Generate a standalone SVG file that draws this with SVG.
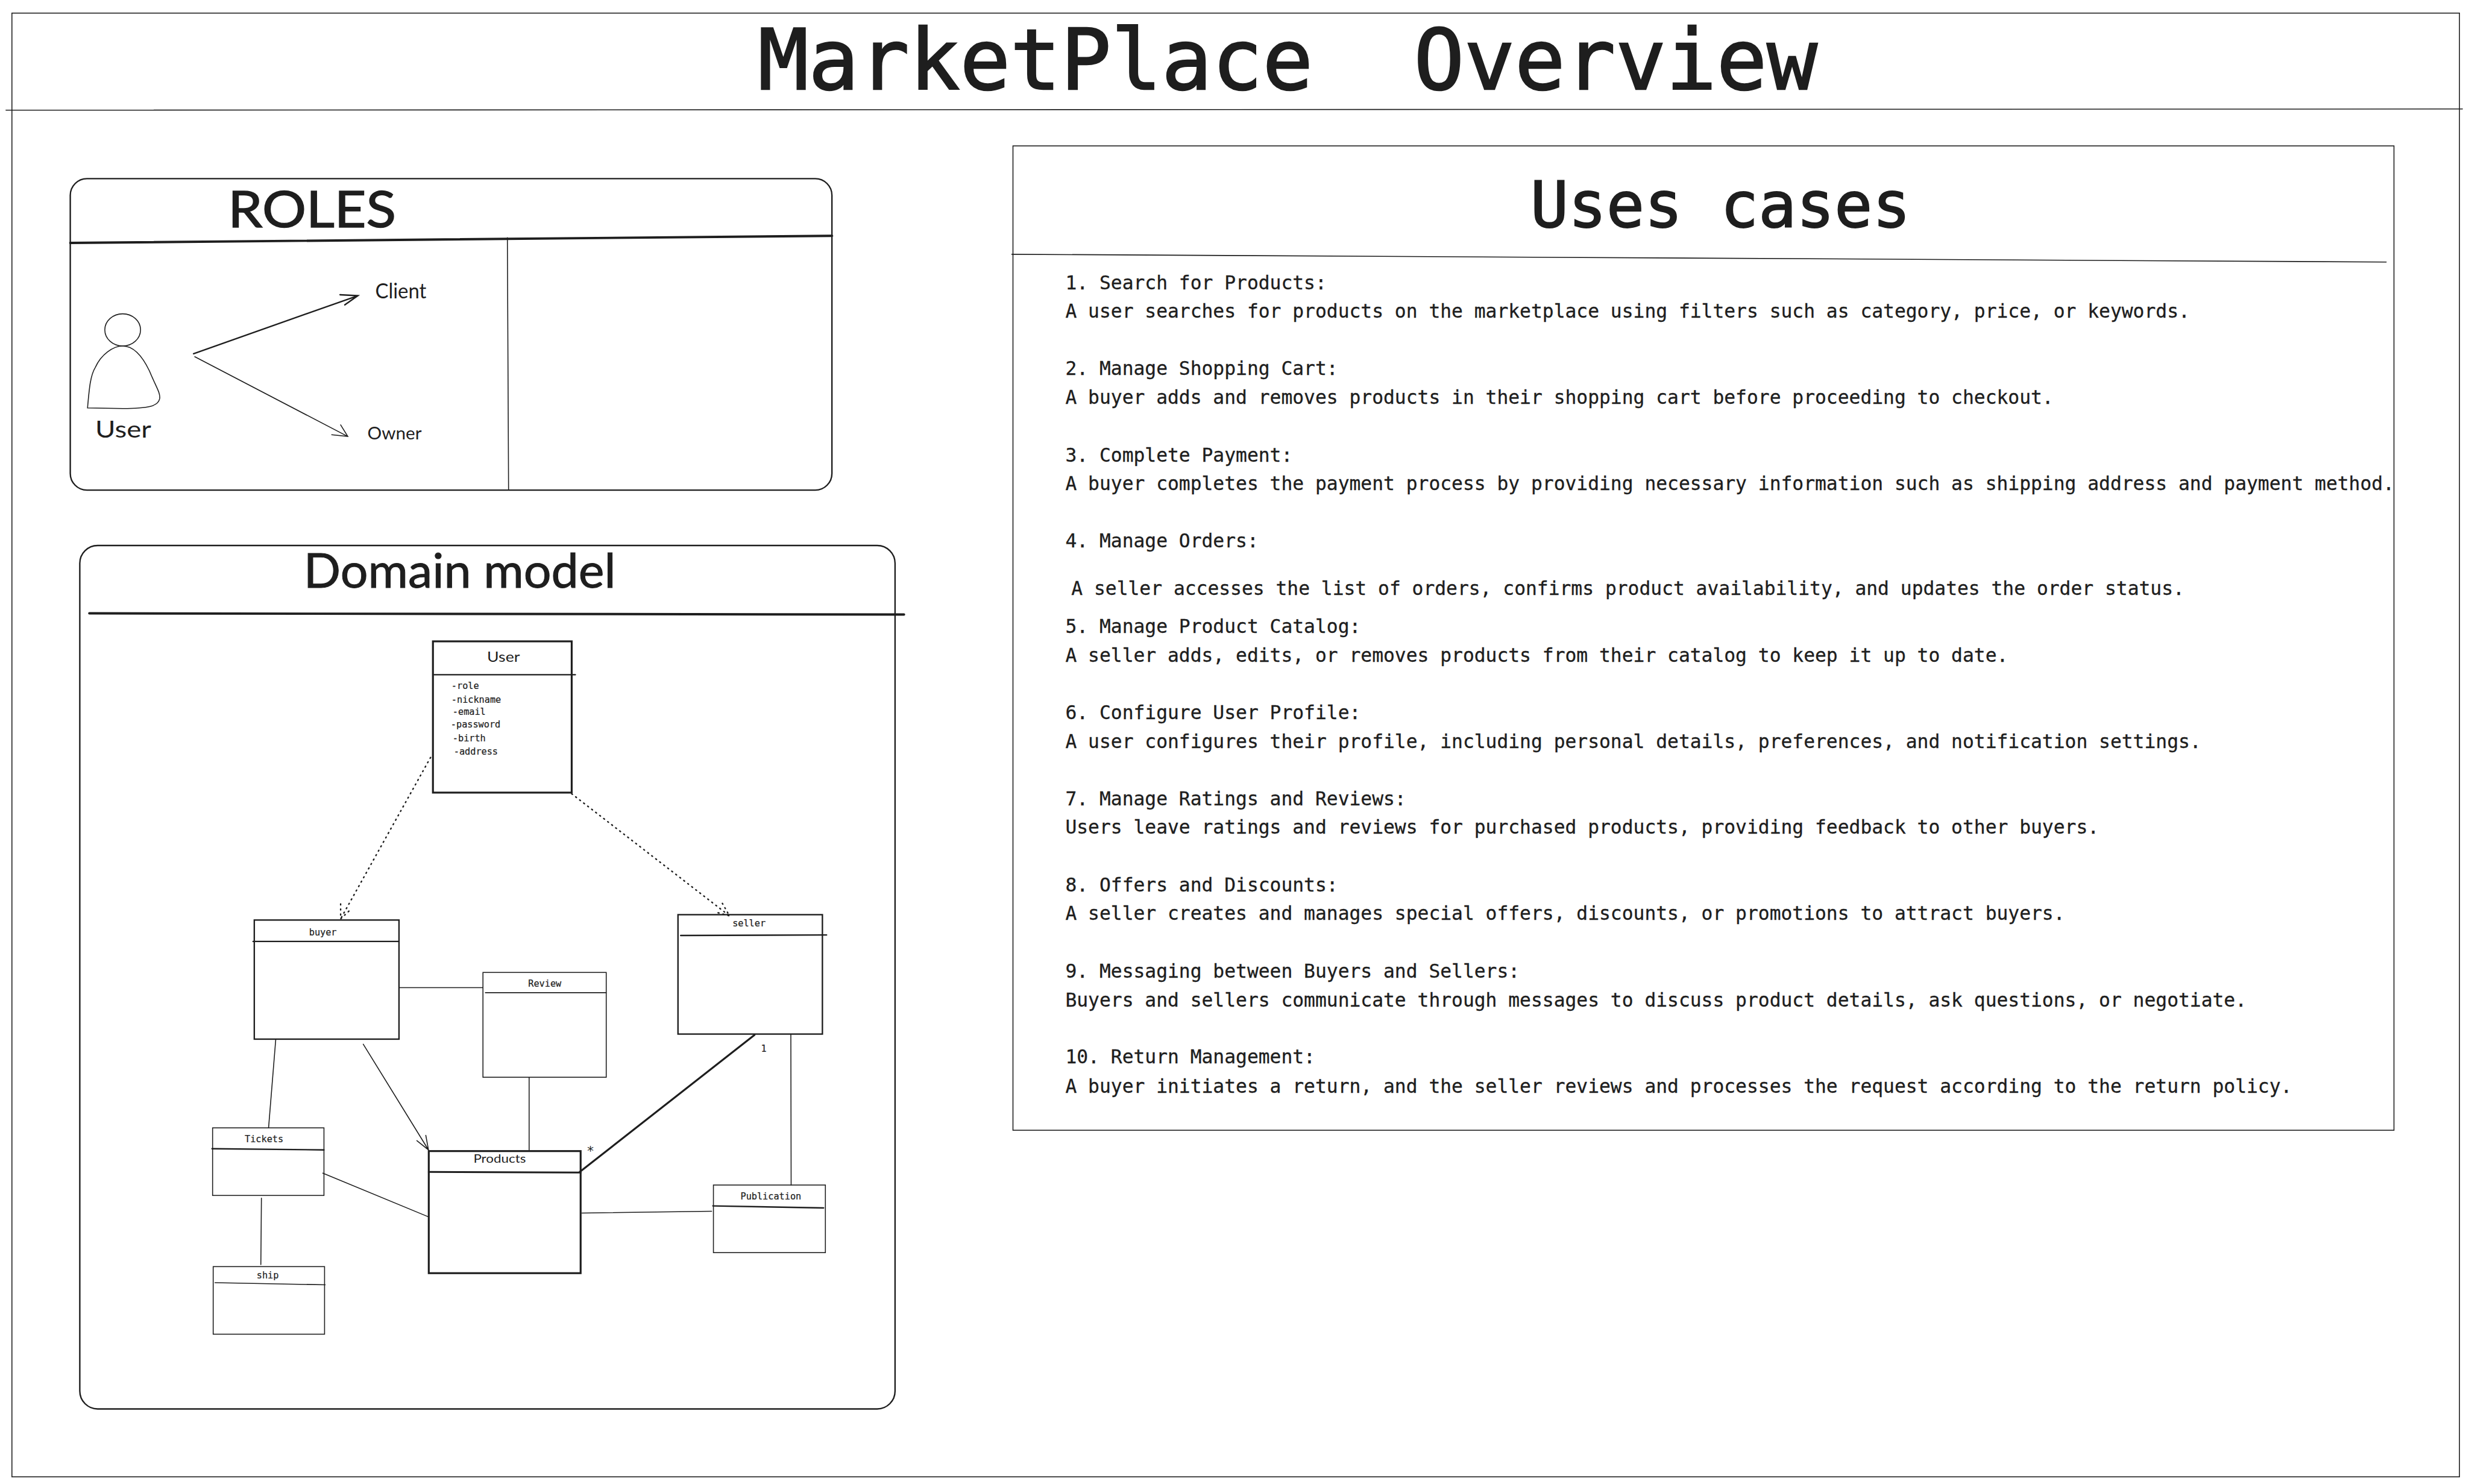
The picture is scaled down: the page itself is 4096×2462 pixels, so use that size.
<svg xmlns="http://www.w3.org/2000/svg" width="4096" height="2462" viewBox="0 0 4096 2462">
<style>
.b{fill:none;stroke:#1e1e1e;stroke-width:2.4;stroke-linecap:round}
.m{stroke-width:3.2}
.t{fill:none;stroke:#1e1e1e;stroke-width:1.6;stroke-linecap:round}
.h{stroke-width:4}
.d{fill:none;stroke:#1e1e1e;stroke-width:2.4;stroke-linecap:round;stroke-dasharray:1.5 7}
text{fill:#1e1e1e}
.c{font-family:"DejaVu Sans Mono","Liberation Mono",monospace;white-space:pre}
.s{font-size:31.7px;stroke:#1e1e1e;stroke-width:.35}
.a{font-size:15.4px;stroke:#1e1e1e;stroke-width:.25}
.w{font-family:"Lato","Noto Sans",sans-serif}
.n{font-size:15.4px;stroke:#1e1e1e;stroke-width:.25}
</style>
<rect width="4096" height="2462" fill="#ffffff"/>
<g transform="scale(0.98794)">
<g id="frame">
<rect class="t" x="20" y="22" width="4110" height="2458"/>
<path class="t" d="M10 185L4135 183"/>
<text class="c" x="1273" y="150" font-size="140.700" stroke="#1e1e1e" stroke-width="2.500" xml:space="preserve">MarketPlace  Overview</text>
</g>
<g id="roles">
<rect class="b" x="118" y="300" width="1279" height="523" rx="28"/>
<path class="b h" d="M118 408L1397 396"/>
<path class="t" d="M852 399L854 823"/>
<text class="w" x="383" y="382" font-size="85" stroke="#1e1e1e" stroke-width="1.500" textLength="282" lengthAdjust="spacingAndGlyphs">ROLES</text>
</g>
<g id="actor">
<ellipse class="t" cx="206" cy="554" rx="30" ry="27"/>
<path class="t" d="M147 685C150 650 152 630 160 617C170 595 190 581 206 581C225 581 240 600 251 623C262 650 270 660 268 670C265 682 250 686 206 686Z"/>
<text class="w" x="160" y="735" font-size="40" textLength="94" lengthAdjust="spacingAndGlyphs">User</text>
</g>
<g id="client"><text class="w" x="630" y="501" font-size="36" textLength="86" lengthAdjust="spacingAndGlyphs">Client</text></g>
<g id="owner"><text class="w" x="617" y="738" font-size="30" textLength="91" lengthAdjust="spacingAndGlyphs">Owner</text></g>
<g id="domain">
<rect class="b" x="134" y="916" width="1369" height="1450" rx="30"/>
<path class="b h" d="M150 1030L1518 1032"/>
<text class="w" x="510" y="987" font-size="80" stroke="#1e1e1e" stroke-width="1" textLength="524" lengthAdjust="spacingAndGlyphs">Domain model</text>
</g>
<g transform="translate(0,-1)">
<g id="user-class">
<rect class="b m" x="727" y="1078" width="233" height="254"/>
<path class="b" d="M729 1134L966 1134"/>
<text class="w" x="818" y="1112" font-size="23" textLength="55" lengthAdjust="spacingAndGlyphs">User</text>
<text class="c a" x="758" y="1158">-role</text>
<text class="c a" x="758" y="1181">-nickname</text>
<text class="c a" x="760" y="1201">-email</text>
<text class="c a" x="757" y="1223">-password</text>
<text class="c a" x="760" y="1246">-birth</text>
<text class="c a" x="762" y="1268">-address</text>
</g>
<g id="buyer">
<rect class="b" x="427" y="1546" width="243" height="200"/>
<path class="b" d="M425 1582L670 1582"/>
<text class="c a" x="519" y="1572">buyer</text>
</g>
<g id="seller">
<rect class="b" x="1138.500" y="1537" width="242.500" height="200.500"/>
<path class="b" d="M1143 1572L1388 1571"/>
<text class="c a" x="1230" y="1557">seller</text>
</g>
<g id="review">
<rect class="t" x="811" y="1634" width="207" height="176"/>
<path class="t" d="M815 1668L1018 1668"/>
<text class="c a" x="887" y="1658">Review</text>
</g>
<g id="products">
<rect class="b m" x="720" y="1934" width="255" height="205"/>
<path class="b m" d="M720 1969L975 1970"/>
<text class="w" x="795" y="1954" font-size="19" textLength="88" lengthAdjust="spacingAndGlyphs">Products</text>
</g>
<g id="tickets">
<rect class="t" x="357" y="1895" width="187" height="113.500"/>
<path class="b" d="M356 1930L544 1932"/>
<text class="c a" x="411" y="1919">Tickets</text>
</g>
<g id="ship">
<rect class="t" x="358" y="2128" width="187" height="113.500"/>
<path class="t" d="M361 2155L546 2158.500"/>
<text class="c a" x="431" y="2148">ship</text>
</g>
<g id="publication">
<rect class="t" x="1198" y="1991" width="188" height="113.500"/>
<path class="b" d="M1197 2026L1383 2029.500"/>
<text class="c a" x="1243.500" y="2015">Publication</text>
</g>
</g>
<g id="connectors">
<path class="b" d="M325 594L601 496.500M571 495L601 496.500L579 512"/>
<path class="t" d="M327 599L584 733M572 713.500L584 733L557 730"/>
<g transform="translate(0,-1)">
<path class="d" d="M723 1273L572 1544M572 1519L572 1544L588 1529"/>
<path class="d" d="M960 1334L1225 1539M1213 1518L1225 1539L1203 1533"/>
<path class="t" d="M671 1659.500L811 1659.500"/>
<path class="t" d="M463 1747L451 1895"/>
<path class="t" d="M610 1754.500L719.500 1932M715 1907.500L719.500 1932L700 1916.500"/>
<path class="t" d="M888.500 1811L888.500 1932"/>
<path class="b m" d="M1267 1739L973.500 1969"/>
<path class="t" d="M1328 1738L1328.500 1991"/>
<path class="t" d="M542 1971L718.500 2044"/>
<path class="t" d="M439 2013L438 2124.500"/>
<path class="t" d="M977 2038L1195 2035"/>
<text class="c a" x="1278" y="1767">1</text>
<text class="c" x="985" y="1941" font-size="22">*</text>
</g>
</g>
<g id="use-cases">
<rect class="t" x="1701" y="245" width="2319" height="1653"/>
<path class="t" d="M1699 427L4007 440"/>
<text class="c" x="2570" y="382" font-size="106" stroke="#1e1e1e" stroke-width="2">Uses cases</text>
<text class="c s" x="1789" y="486">1. Search for Products:</text>
<text class="c s" x="1789" y="533">A user searches for products on the marketplace using filters such as category, price, or keywords.</text>
<text class="c s" x="1789" y="630">2. Manage Shopping Cart:</text>
<text class="c s" x="1789" y="678">A buyer adds and removes products in their shopping cart before proceeding to checkout.</text>
<text class="c s" x="1789" y="775">3. Complete Payment:</text>
<text class="c s" x="1789" y="823">A buyer completes the payment process by providing necessary information such as shipping address and payment method.</text>
<text class="c s" x="1789" y="919">4. Manage Orders:</text>
<text class="c s" x="1799" y="999">A seller accesses the list of orders, confirms product availability, and updates the order status.</text>
<text class="c s" x="1789" y="1063">5. Manage Product Catalog:</text>
<text class="c s" x="1789" y="1111">A seller adds, edits, or removes products from their catalog to keep it up to date.</text>
<text class="c s" x="1789" y="1208">6. Configure User Profile:</text>
<text class="c s" x="1789" y="1256">A user configures their profile, including personal details, preferences, and notification settings.</text>
<text class="c s" x="1789" y="1352">7. Manage Ratings and Reviews:</text>
<text class="c s" x="1789" y="1400">Users leave ratings and reviews for purchased products, providing feedback to other buyers.</text>
<text class="c s" x="1789" y="1497">8. Offers and Discounts:</text>
<text class="c s" x="1789" y="1545">A seller creates and manages special offers, discounts, or promotions to attract buyers.</text>
<text class="c s" x="1789" y="1642">9. Messaging between Buyers and Sellers:</text>
<text class="c s" x="1789" y="1690">Buyers and sellers communicate through messages to discuss product details, ask questions, or negotiate.</text>
<text class="c s" x="1789" y="1786">10. Return Management:</text>
<text class="c s" x="1789" y="1835">A buyer initiates a return, and the seller reviews and processes the request according to the return policy.</text>
</g>
</g>
</svg>
